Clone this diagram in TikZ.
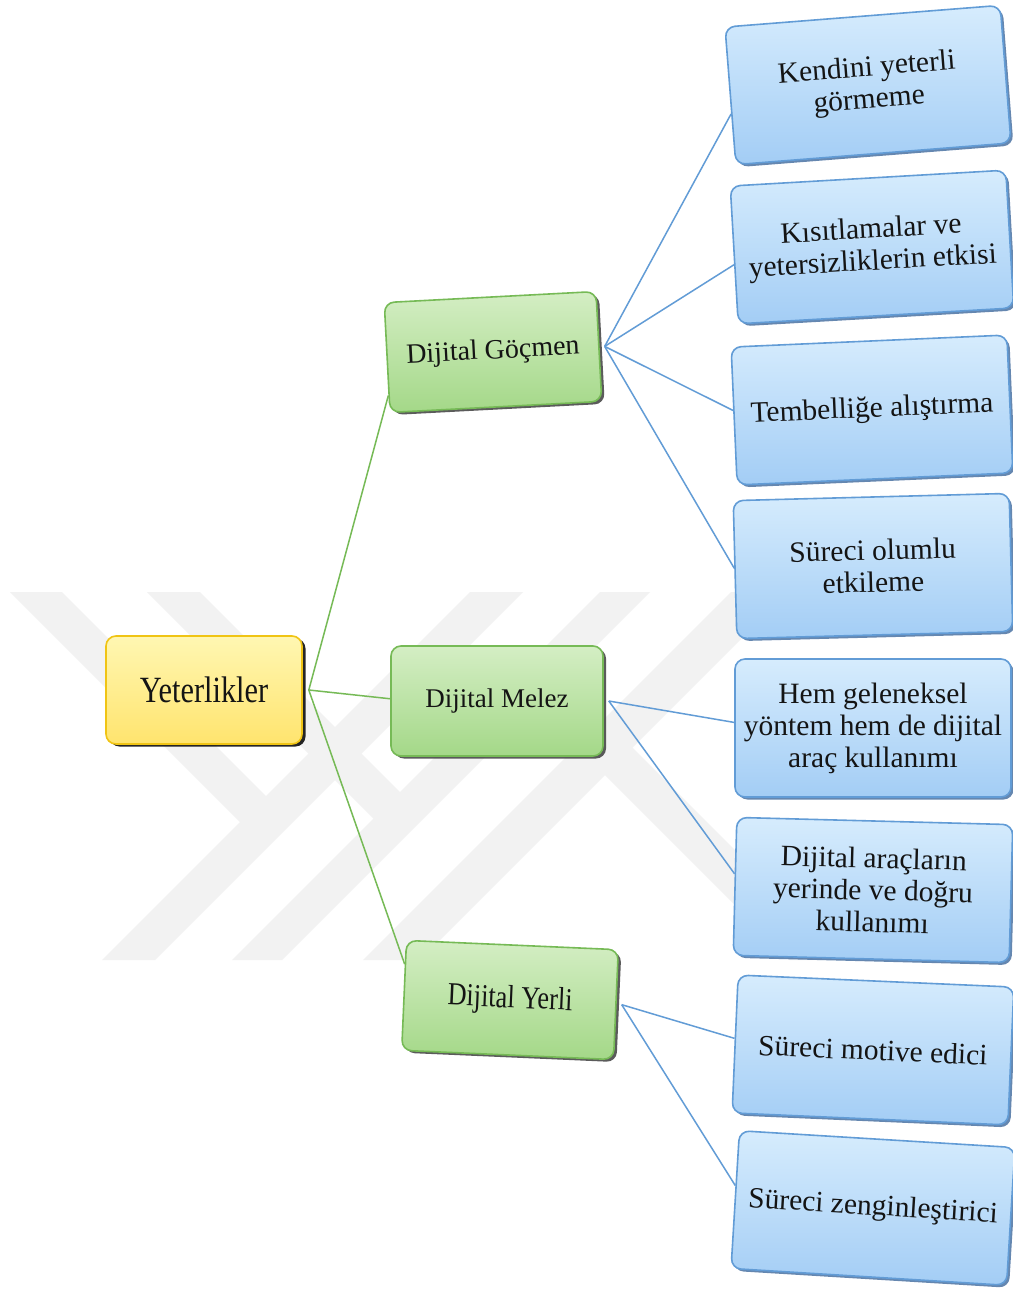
\documentclass[tikz,border=0pt]{standalone}
\usepackage{fontspec}
\setmainfont{Liberation Serif}
\newfontfamily\narrowserif[FakeStretch=0.82]{Liberation Serif}
\usetikzlibrary{shadows,calc}

\definecolor{bluetop}{RGB}{214,236,253}
\definecolor{bluebot}{RGB}{163,205,245}
\definecolor{blueline}{RGB}{98,156,214}
\definecolor{blueshade}{RGB}{50,95,150}
\definecolor{greentop}{RGB}{212,238,196}
\definecolor{greenbot}{RGB}{164,216,136}
\definecolor{greenline}{RGB}{118,186,86}
\definecolor{yellowtop}{RGB}{255,247,178}
\definecolor{yellowbot}{RGB}{255,228,110}
\definecolor{yellowline}{RGB}{240,196,20}
\definecolor{wmark}{RGB}{242,242,242}
\definecolor{inkcol}{RGB}{20,20,20}

\tikzset{
  box/.style={rectangle, rounded corners=10pt, line width=1.6pt, align=center,
    text=inkcol, inner sep=4pt},
  rootbox/.style={box, draw=yellowline, top color=yellowtop, bottom color=yellowbot,
    minimum width=196pt, minimum height=108pt,
    drop shadow={shadow xshift=3.5pt, shadow yshift=-2.5pt, fill=black, opacity=0.85},
    font=\narrowserif\fontsize{37}{39}\selectfont},
  midbox/.style={box, draw=greenline, top color=greentop, bottom color=greenbot,
    minimum width=212pt, minimum height=110pt,
    drop shadow={shadow xshift=3pt, shadow yshift=-2.5pt, fill=black!80, opacity=0.8},
    font=\fontsize{28}{30}\selectfont},
  leafbox/.style={box, draw=blueline, top color=bluetop, bottom color=bluebot,
    minimum width=276pt, minimum height=138pt,
    drop shadow={shadow xshift=2.5pt, shadow yshift=-2.5pt, fill=blueshade, opacity=0.75},
    font=\fontsize{29.5}{32}\selectfont},
  greenlink/.style={draw=greenline, line width=1.5pt},
  bluelink/.style={draw=blueline, line width=1.5pt},
}

\begin{document}
\begin{tikzpicture}[x=1pt,y=-1pt]
\useasboundingbox[fill=white] (0,0) rectangle (1012,1293);

% faint background emblem made of diagonal bands
\fill[wmark] (10,592) -- (62,592) -- (266,796) -- (470,592) -- (523,592)
  -- (155,960) -- (102,960) -- (240,822) -- cycle;
\fill[wmark] (147,592) -- (200,592) -- (400,792) -- (600,592) -- (650,592)
  -- (282,960) -- (232,960) -- (373.5,818.5) -- cycle;
\fill[wmark] (731,592) -- (788,592) -- (632.5,747.5) -- (845,960) -- (790,960)
  -- (605,775) -- (420,960) -- (363,960) -- cycle;

% root
\node[rootbox] (root) at (204,690) {Yeterlikler};

% second level
\node[midbox, rotate=3] (gm) at (493,352) {Dijital Göçmen};
\node[midbox, font=\fontsize{27}{29}\selectfont] (ml) at (497,701) {Dijital Melez};
\node[midbox, rotate=-2.5, font=\narrowserif\fontsize{32}{34}\selectfont] (yr) at (510,1000) {Dijital Yerli};

% leaves
\node[leafbox, rotate=4.5]  (b1) at (868,85)   {Kendini yeterli\\görmeme};
\node[leafbox, rotate=3.3]  (b2) at (872,247)  {Kısıtlamalar ve\\yetersizliklerin etkisi};
\node[leafbox, rotate=2.5]  (b3) at (872,410)  {Tembelliğe alıştırma};
\node[leafbox, rotate=1.5]  (b4) at (873,566)  {Süreci olumlu\\etkileme};
\node[leafbox]              (b5) at (873,728)  {Hem geleneksel\\yöntem hem de dijital\\araç kullanımı};
\node[leafbox, rotate=-1.5] (b6) at (873,890)  {Dijital araçların\\yerinde ve doğru\\kullanımı};
\node[leafbox, rotate=-2.5] (b7) at (873,1050) {Süreci motive edici};
\node[leafbox, rotate=-3.5] (b8) at (873,1208) {Süreci zenginleştirici};

% connector origins just outside the parents
\coordinate (rootout) at ([xshift=6pt]root.east);
\coordinate (gmout) at ([xshift=5pt]gm.east);
\coordinate (mlout) at ([xshift=5pt]ml.east);
\coordinate (yrout) at ([xshift=5pt]yr.east);

% root to second level
\draw[greenlink] (rootout) -- ($(gm.north west)!0.84!(gm.south west)$);
\draw[greenlink] (rootout) -- ($(ml.north west)!0.48!(ml.south west)$);
\draw[greenlink] (rootout) -- ($(yr.north west)!0.22!(yr.south west)$);

% second level to leaves
\draw[bluelink] (gmout) -- ($(b1.north west)!0.63!(b1.south west)$);
\draw[bluelink] (gmout) -- ($(b2.north west)!0.57!(b2.south west)$);
\draw[bluelink] (gmout) -- ($(b3.north west)!0.46!(b3.south west)$);
\draw[bluelink] (gmout) -- ($(b4.north west)!0.49!(b4.south west)$);
\draw[bluelink] (mlout) -- ($(b5.north west)!0.46!(b5.south west)$);
\draw[bluelink] (mlout) -- ($(b6.north west)!0.41!(b6.south west)$);
\draw[bluelink] (yrout) -- ($(b7.north west)!0.46!(b7.south west)$);
\draw[bluelink] (yrout) -- ($(b8.north west)!0.40!(b8.south west)$);
\end{tikzpicture}
\end{document}
